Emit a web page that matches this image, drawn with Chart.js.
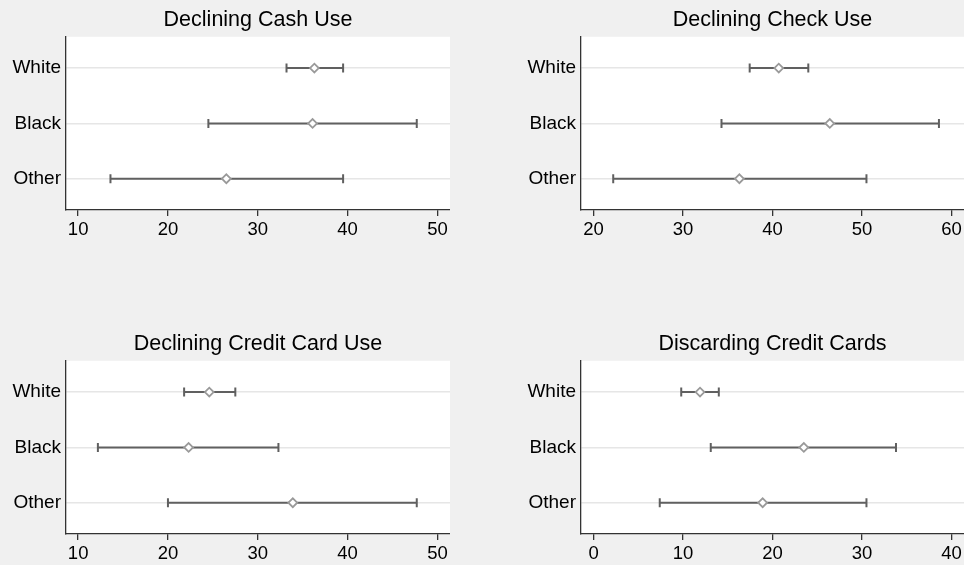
<!DOCTYPE html>
<html>
<head>
<meta charset="utf-8">
<script src="https://cdn.jsdelivr.net/npm/chart.js@4.4.1/dist/chart.umd.min.js"></script>
<style>
  html, body { margin: 0; padding: 0; background: #f0f0f0; width: 964px; height: 565px; overflow: hidden; }
  .panel { position: absolute; }
</style>
</head>
<body>
<div class="panel" style="left:0;top:0;width:450px;height:240px"><canvas id="cash"></canvas></div>
<div class="panel" style="left:515px;top:0;width:449px;height:240px"><canvas id="check"></canvas></div>
<div class="panel" style="left:0;top:324px;width:450px;height:240px"><canvas id="credit"></canvas></div>
<div class="panel" style="left:515px;top:324px;width:449px;height:240px"><canvas id="discard"></canvas></div>
<script>
// Groups shown on each panel's vertical axis, top to bottom
const groups = ['White', 'Black', 'Other'];

// Declining cash use: point estimate with lower / upper bound
const cashMean = [36.3, 36.1, 26.5];
const cashLow  = [33.2, 24.5, 13.6];
const cashHigh = [39.5, 47.7, 39.5];
const cashTicks = [10, 20, 30, 40, 50];

// Declining check use
const checkMean = [40.7, 46.4, 36.3];
const checkLow  = [37.45, 34.3, 22.2];
const checkHigh = [44.0, 58.6, 50.5];
const checkTicks = [20, 30, 40, 50, 60];

// Declining credit card use
const creditMean = [24.6, 22.3, 33.9];
const creditLow  = [21.8, 12.2, 20.0];
const creditHigh = [27.5, 32.3, 47.7];
const creditTicks = [10, 20, 30, 40, 50];

// Discarding credit cards
const discardMean = [11.9, 23.5, 18.9];
const discardLow  = [9.8, 13.1, 7.4];
const discardHigh = [14.0, 33.8, 30.5];
const discardTicks = [0, 10, 20, 30, 40];

const FONT = '"Liberation Sans", Arial, Helvetica, sans-serif';
Chart.defaults.font.family = FONT;
Chart.defaults.color = '#000';

// white plotting region on the grey page
const plotBg = {
  id: 'plotBg',
  beforeDraw(chart) {
    const { ctx, chartArea: a } = chart;
    ctx.save();
    ctx.fillStyle = '#ffffff';
    ctx.fillRect(a.left, a.top, a.right - a.left, a.bottom - a.top);
    ctx.restore();
  }
};

const BAR = '#606060';
const MARK = '#9a9a9a';

function buildDatasets(mean, low, high) {
  const sets = [{
    label: 'estimate',
    data: mean.map((m, i) => ({ x: m, y: i })),
    pointStyle: 'rectRot',
    pointRadius: 4.4,
    pointHoverRadius: 4.4,
    pointBackgroundColor: '#ffffff',
    pointBorderColor: MARK,
    pointBorderWidth: 1.8,
    showLine: false,
    order: 0
  }];
  groups.forEach((g, i) => {
    sets.push({
      label: g + ' interval',
      data: [{ x: low[i], y: i }, { x: high[i], y: i }],
      showLine: true,
      borderColor: BAR,
      borderWidth: 2,
      pointStyle: 'line',
      pointRotation: 90,
      pointRadius: 4.5,
      pointHoverRadius: 4.5,
      pointBorderColor: BAR,
      pointBorderWidth: 2,
      fill: false,
      order: 1
    });
  });
  return sets;
}

function makePanel(id, title, mean, low, high, ticks, xmin, xmax) {
  new Chart(document.getElementById(id), {
    type: 'scatter',
    data: { datasets: buildDatasets(mean, low, high) },
    options: {
      responsive: true,
      maintainAspectRatio: false,
      animation: false,
      layout: { padding: 0, autoPadding: false },
      plugins: {
        legend: { display: false },
        tooltip: { enabled: false },
        title: {
          display: true,
          text: title,
          fullSize: false,
          color: '#000',
          font: { size: 21.5, weight: 'normal', family: FONT },
          padding: { top: 7, bottom: 4 }
        }
      },
      scales: {
        x: {
          type: 'linear',
          min: xmin,
          max: xmax,
          afterBuildTicks: s => { s.ticks = ticks.map(v => ({ value: v })); },
          afterFit: s => { s.height = 30; s.paddingLeft = 0; s.paddingRight = 0; },
          ticks: { color: '#000', font: { size: 18.5 }, padding: 3, maxRotation: 0, autoSkip: false },
          grid: { drawOnChartArea: false, drawTicks: true, tickLength: 6, color: '#333', lineWidth: 1.3 },
          border: { display: true, color: '#333', width: 1.3 }
        },
        y: {
          type: 'linear',
          reverse: true,
          min: -0.565,
          max: 2.565,
          afterBuildTicks: s => { s.ticks = groups.map((g, i) => ({ value: i })); },
          afterFit: s => { s.width = 66; s.paddingTop = 0; s.paddingBottom = 0; },
          ticks: { color: '#000', font: { size: 19 }, padding: 5, callback: (v, i) => groups[i] },
          grid: { color: '#e6e6e6', lineWidth: 1.5, drawTicks: false },
          border: { display: true, color: '#333', width: 1.3 }
        }
      }
    },
    plugins: [plotBg]
  });
}

makePanel('cash', 'Declining Cash Use', cashMean, cashLow, cashHigh, cashTicks, 8.65, 51.4);
makePanel('check', 'Declining Check Use', checkMean, checkLow, checkHigh, checkTicks, 18.6, 61.4);
makePanel('credit', 'Declining Credit Card Use', creditMean, creditLow, creditHigh, creditTicks, 8.65, 51.4);
makePanel('discard', 'Discarding Credit Cards', discardMean, discardLow, discardHigh, discardTicks, -1.4, 41.4);
</script>
</body>
</html>
